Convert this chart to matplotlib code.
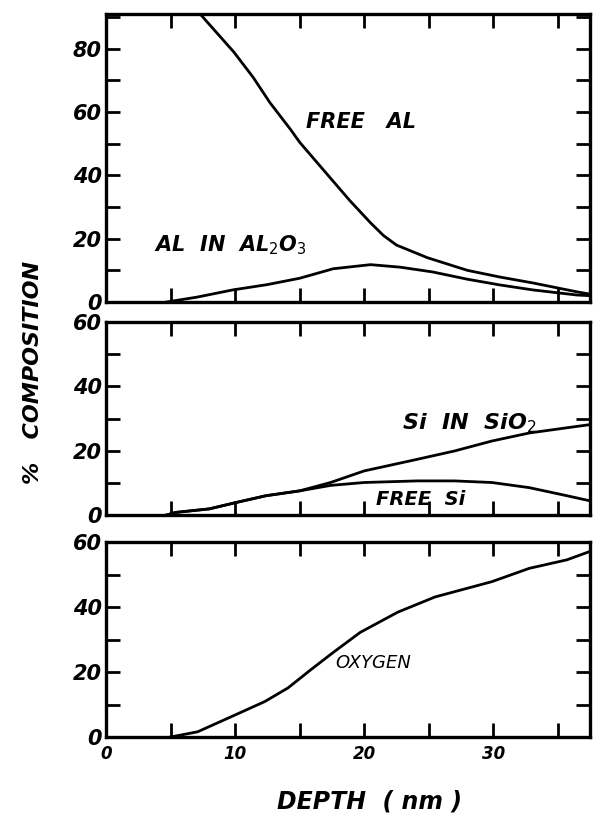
import matplotlib
matplotlib.use("Agg")
import matplotlib.pyplot as plt

# ---- data ----
free_al_x = [7.4, 9.9, 11.4, 12.7, 14.3, 15.0, 17.0, 18.9, 20.5, 21.5, 22.5, 24.9, 28.0, 30.5, 33.1, 36.5, 37.5]
free_al_y = [90.5, 79.0, 71.0, 63.0, 54.5, 50.5, 41.0, 32.0, 25.0, 21.0, 18.0, 14.0, 10.0, 7.9, 6.0, 3.2, 2.5]

al2o3_x = [4.7, 7.0, 9.8, 12.5, 15.0, 17.6, 20.5, 22.8, 25.3, 28.0, 30.5, 33.1, 36.5, 37.5]
al2o3_y = [0.0, 1.5, 3.8, 5.5, 7.5, 10.5, 11.8, 11.0, 9.5, 7.2, 5.4, 3.8, 2.2, 2.0]

sio2_x = [4.7, 5.4, 8.0, 10.1, 12.4, 15.0, 17.4, 20.0, 24.1, 27.0, 29.9, 32.8, 35.5, 37.5]
sio2_y = [0.0, 0.8, 1.9, 3.9, 6.0, 7.5, 10.1, 13.7, 17.3, 19.9, 23.0, 25.5, 27.0, 28.1]

free_si_x = [4.7, 5.4, 8.0, 10.1, 12.4, 15.0, 17.4, 20.0, 24.1, 27.0, 29.9, 32.8, 35.7, 37.5]
free_si_y = [0.0, 0.8, 1.9, 3.9, 6.0, 7.5, 9.2, 10.1, 10.6, 10.6, 10.1, 8.5, 6.0, 4.4]

oxy_x = [5.0, 7.1, 9.4, 12.3, 14.1, 15.9, 17.6, 19.7, 22.6, 25.5, 29.9, 32.8, 35.7, 37.5]
oxy_y = [0.0, 1.6, 5.7, 10.9, 15.1, 20.8, 26.0, 32.2, 38.4, 43.1, 47.8, 51.9, 54.5, 57.1]

x_ticks = [0, 10, 20, 30]
top_yticks = [0, 20, 40, 60, 80]
low_yticks = [0, 20, 40, 60]

FONT = dict(fontstyle="italic", fontweight="bold", family="DejaVu Sans")

fig = plt.figure(figsize=(5.97, 8.23), dpi=100)
L, R = 106 / 597, 590 / 597
H = 823.0
rects = [
    (L, 1 - 302 / H, R - L, (302 - 14) / H),
    (L, 1 - 515 / H, R - L, (515 - 322) / H),
    (L, 1 - 737 / H, R - L, (737 - 542) / H),
]
axes = [fig.add_axes(r) for r in rects]
ylims = [(0, 91), (0, 60), (0, 60)]

for i, ax in enumerate(axes):
    ax.set_xlim(0, 37.5)
    ax.set_ylim(*ylims[i])
    for s in ax.spines.values():
        s.set_linewidth(2.4)
    ax.set_xticks([5, 10, 15, 20, 25, 30, 35])
    ax.set_xticks([], minor=True)
    yt = top_yticks if i == 0 else low_yticks
    ax.set_yticks(yt)
    ax.set_yticks([v + 10 for v in yt if v + 10 < ylims[i][1]], minor=True)
    ax.tick_params(axis="both", which="both", direction="in", top=True, right=True,
                   width=2.0, length=10)
    ax.tick_params(axis="y", which="major", labelsize=15, pad=3)
    for lab in ax.get_yticklabels():
        lab.set_fontstyle("italic")
        lab.set_fontweight("bold")
    if i < 2:
        ax.tick_params(axis="x", labelbottom=False)

axes[2].set_xticks([0, 5, 10, 15, 20, 25, 30, 35])
axes[2].set_xticklabels(["0", "", "10", "", "20", "", "30", ""])
axes[2].tick_params(axis="x", labelsize=12, pad=6)
for lab in axes[2].get_xticklabels():
    lab.set_fontstyle("italic")
    lab.set_fontweight("bold")

lw = 2.0
axes[0].plot(free_al_x, free_al_y, color="black", lw=lw)
axes[0].plot(al2o3_x, al2o3_y, color="black", lw=lw)
axes[1].plot(sio2_x, sio2_y, color="black", lw=lw)
axes[1].plot(free_si_x, free_si_y, color="black", lw=lw)
axes[2].plot(oxy_x, oxy_y, color="black", lw=lw)

axes[0].text(15.5, 57, "FREE   AL", fontsize=15, va="center", ha="left", **FONT)
axes[0].text(3.7, 18, r"AL  IN  AL$_2$O$_3$", fontsize=15, va="center", ha="left", **FONT)
axes[1].text(22.9, 28.5, r"Si  IN  SiO$_2$", fontsize=16, va="center", ha="left", **FONT)
axes[1].text(20.9, 4.8, "FREE  Si", fontsize=14, va="center", ha="left", **FONT)
axes[2].text(17.8, 22.8, "OXYGEN", fontsize=13, va="center", ha="left",
             fontstyle="italic", fontweight="normal", family="DejaVu Sans")

fig.text(370 / 597, 1 - 802 / H, "DEPTH  ( nm )", fontsize=17, ha="center", va="center", **FONT)
fig.text(33 / 597, 1 - 372 / H, "%   COMPOSITION", fontsize=16, rotation=90,
         ha="center", va="center", **FONT)

fig.savefig("out.png", dpi=100, facecolor="white")
